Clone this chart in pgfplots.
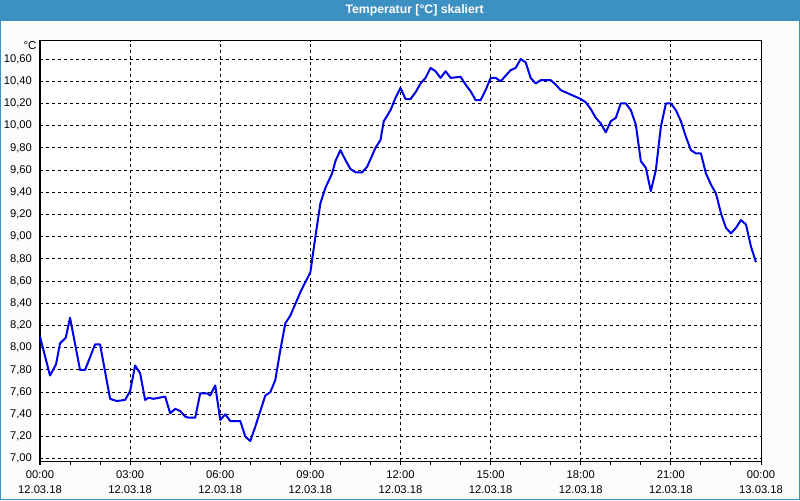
\documentclass[border=0pt]{standalone}
\usepackage{fontspec}
\setmainfont{Liberation Sans}
\usepackage{pgfplots}
\pgfplotsset{compat=1.18}
\definecolor{barcol}{RGB}{60,145,195}
\definecolor{bgcol}{RGB}{251,253,252}
\definecolor{linecol}{RGB}{0,0,235}
\begin{document}
\begin{tikzpicture}
\useasboundingbox (0,0) rectangle (600pt,375pt);
\fill[bgcol] (0,0) rectangle (600pt,375pt);
\fill[barcol] (0,359.6pt) rectangle (600pt,375pt);
\draw[barcol,line width=0.75pt] (0.375pt,0.375pt) rectangle (599.625pt,374.625pt);
\node[text=white,font=\bfseries\fontsize{9.2}{11}\selectfont] at (311pt,367.4pt) {Temperatur [°C] skaliert};
\begin{axis}[
  name=ax,
  at={(30pt,29.25pt)}, anchor=south west,
  scale only axis, width=540.75pt, height=315.2pt,
  xmin=0, xmax=24, ymin=6.98, ymax=10.765,
  axis background/.style={fill=white},
  axis line style={black,line width=0.75pt},
  xtick={0,3,...,24},
  minor xtick={1,2,4,5,7,8,10,11,13,14,16,17,19,20,22,23},
  xticklabels={{00:00\\12.03.18},{03:00\\12.03.18},{06:00\\12.03.18},{09:00\\12.03.18},{12:00\\12.03.18},{15:00\\12.03.18},{18:00\\12.03.18},{21:00\\12.03.18},{00:00\\13.03.18}},
  ytick={7,7.2,7.4,7.6,7.8,8,8.2,8.4,8.6,8.8,9,9.2,9.4,9.6,9.8,10,10.2,10.4,10.6},
  /pgf/number format/assume math mode=true,
  yticklabel style={xshift=0.5pt,/pgf/number format/fixed,/pgf/number format/fixed zerofill,/pgf/number format/precision=2,/pgf/number format/use comma},
  tick label style={font=\fontsize{8.4}{11.25}\selectfont, text=black},
  xticklabel style={align=center, yshift=-1pt},
  xtick pos=lower, ytick pos=left,
  tick align=outside,
  major tick length=3pt, minor tick length=3pt,
  tick style={black,line width=0.75pt},
  ytick style={draw=none},
  xmajorgrids, ymajorgrids,
  major grid style={black,line width=0.75pt,dash pattern=on 2.25pt off 2.25pt},
]
\addplot[linecol,line width=1.5pt,line join=round] table {
x y
0.000 8.10
0.333 7.75
0.533 7.85
0.667 8.04
0.857 8.09
1.000 8.27
1.333 7.80
1.500 7.80
1.833 8.03
2.000 8.03
2.333 7.54
2.557 7.52
2.833 7.53
3.000 7.61
3.167 7.84
3.333 7.77
3.500 7.53
3.610 7.55
3.777 7.54
4.167 7.56
4.333 7.41
4.500 7.45
4.667 7.43
4.833 7.38
4.943 7.37
5.167 7.37
5.333 7.59
5.557 7.59
5.667 7.57
5.833 7.66
6.000 7.35
6.167 7.40
6.333 7.34
6.667 7.34
6.833 7.20
7.000 7.16
7.167 7.29
7.500 7.57
7.667 7.60
7.833 7.71
8.000 7.98
8.167 8.22
8.333 8.29
8.667 8.50
9.000 8.68
9.167 9.00
9.333 9.30
9.500 9.44
9.723 9.57
9.833 9.68
10.000 9.78
10.167 9.69
10.333 9.61
10.500 9.58
10.723 9.58
10.890 9.63
11.167 9.80
11.333 9.87
11.443 10.04
11.667 10.14
11.833 10.25
12.000 10.34
12.167 10.24
12.333 10.24
12.500 10.30
12.667 10.38
12.833 10.43
13.000 10.52
13.167 10.49
13.333 10.43
13.500 10.49
13.667 10.43
14.000 10.44
14.167 10.37
14.333 10.31
14.500 10.23
14.667 10.23
14.833 10.32
15.000 10.43
15.167 10.43
15.333 10.40
15.500 10.45
15.667 10.50
15.833 10.52
16.000 10.60
16.167 10.57
16.333 10.43
16.500 10.38
16.667 10.41
17.000 10.41
17.167 10.37
17.333 10.32
17.500 10.30
17.667 10.28
17.833 10.26
18.000 10.24
18.167 10.21
18.333 10.15
18.500 10.07
18.667 10.02
18.833 9.94
19.000 10.04
19.167 10.07
19.333 10.20
19.500 10.20
19.667 10.14
19.833 10.01
20.000 9.68
20.167 9.62
20.333 9.41
20.500 9.60
20.667 9.99
20.833 10.20
21.000 10.20
21.167 10.14
21.333 10.04
21.500 9.90
21.667 9.78
21.833 9.75
22.000 9.75
22.167 9.57
22.333 9.47
22.500 9.39
22.667 9.21
22.833 9.08
23.000 9.03
23.167 9.08
23.333 9.15
23.500 9.11
23.667 8.91
23.833 8.77
};
\end{axis}
\node[anchor=east,inner sep=0pt,font=\fontsize{8.6}{10}\selectfont] at ([xshift=-2.5pt,yshift=-3.5pt]ax.north west) {°C};
\end{tikzpicture}
\end{document}
